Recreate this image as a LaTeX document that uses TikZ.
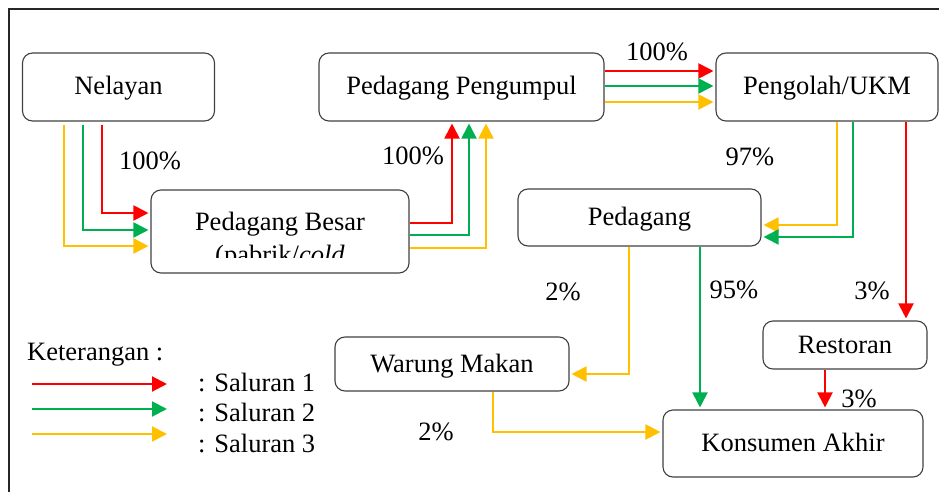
\documentclass[tikz,border=0pt]{standalone}
\usepackage{fontspec}
\setmainfont{Liberation Serif}
\usetikzlibrary{arrows.meta}
\definecolor{sred}{HTML}{FF0000}
\definecolor{sgreen}{HTML}{00B050}
\definecolor{syellow}{HTML}{FFC000}
\newcommand{\fs}{\fontsize{26.5}{30}\selectfont}
\tikzset{
  box/.style={draw=black!75, line width=1.1pt, rounded corners=10pt, inner sep=0pt, font=\fs, align=center, text height=17pt, text depth=1pt},
  flow/.style={line width=2pt, -{Triangle[length=15pt,width=15pt]}, shorten >=2pt},
  gap/.style={shorten <=3pt},
  r1/.style={flow, draw=sred},
  r2/.style={flow, draw=sgreen},
  r3/.style={flow, draw=syellow},
  lbl/.style={font=\fs, inner sep=0pt}
}
\begin{document}
\begin{tikzpicture}[x=1pt,y=-1pt]
\useasboundingbox (0,0) rectangle (939,492);
% frame
\draw[line width=2pt, black!85] (8.5,492) -- (8.5,9.5) -- (939,9.5);

% nodes
\node[box, minimum width=192pt, minimum height=68pt] (nel) at (118.5,87) {Nelayan};
\node[box, minimum width=258pt, minimum height=83pt] (pb) at (280,231.5) {};
\begin{scope}
  \clip (151,190) rectangle (409,257.5);
  \node[lbl, font=\fontsize{26.5}{33}\selectfont, align=center, anchor=base] (pbt) at (280,263) {Pedagang Besar\\(pabrik/\textit{cold}};
\end{scope}
\node[box, minimum width=285pt, minimum height=68pt] (pp) at (461.5,87) {Pedagang Pengumpul};
\node[box, minimum width=222pt, minimum height=68pt] (pu) at (827,87) {Pengolah/UKM};
\node[box, minimum width=243pt, minimum height=57pt] (ped) at (639.5,217.5) {Pedagang};
\node[box, minimum width=234pt, minimum height=54pt] (war) at (452,364) {Warung Makan};
\node[box, minimum width=164pt, minimum height=48pt] (res) at (845,345) {Restoran};
\node[box, minimum width=260pt, minimum height=67pt] (kon) at (793,443.5) {Konsumen Akhir};

% Nelayan -> Pedagang Besar
\draw[r1, gap] (nel.south -| 102,0) |- (pb.west |- 0,213);
\draw[r2, gap] (nel.south -| 83,0) |- (pb.west |- 0,230);
\draw[r3, gap] (nel.south -| 64,0) |- (pb.west |- 0,246);
% Pedagang Besar -> Pedagang Pengumpul
\draw[r1] (pb.east |- 0,223) -| (pp.south -| 452,0);
\draw[r2] (pb.east |- 0,235) -| (pp.south -| 469,0);
\draw[r3] (pb.east |- 0,248) -| (pp.south -| 486,0);
% Pedagang Pengumpul -> Pengolah
\draw[r1] (pp.east |- 0,71) -- (pu.west |- 0,71);
\draw[r2] (pp.east |- 0,86) -- (pu.west |- 0,86);
\draw[r3] (pp.east |- 0,102) -- (pu.west |- 0,102);
% Pengolah -> Pedagang / Restoran
\draw[r3] (pu.south -| 837,0) |- (ped.east |- 0,225);
\draw[r2] (pu.south -| 853,0) |- (ped.east |- 0,237);
\draw[r1] (pu.south -| 906,0) -- (res.north -| 906,0);
% Pedagang -> Warung / Konsumen
\draw[r3] (ped.south -| 629,0) |- (war.east |- 0,374);
\draw[r2] (ped.south -| 700,0) -- (kon.north -| 700,0);
% Warung -> Konsumen
\draw[r3] (war.south -| 493,0) |- (kon.west |- 0,432);
% Restoran -> Konsumen
\draw[r1] (res.south -| 825,0) -- (kon.north -| 825,0);

% percentages
\node[lbl] (p1) at (150,161) {100\%};
\node[lbl] (p2) at (413,156) {100\%};
\node[lbl] (p3) at (657,52) {100\%};
\node[lbl] (p4) at (750,157) {97\%};
\node[lbl] (p5) at (563,292) {2\%};
\node[lbl] (p6) at (734,290) {95\%};
\node[lbl] (p7) at (872,291) {3\%};
\node[lbl] (p8) at (859,399) {3\%};
\node[lbl] (p9) at (436,432) {2\%};

% legend
\node[lbl, anchor=base west] (ket) at (27,360) {Keterangan :};
\coordinate (l1a) at (32,384); \coordinate (l1b) at (169,384);
\coordinate (l2a) at (32,409); \coordinate (l2b) at (169,409);
\coordinate (l3a) at (32,434); \coordinate (l3b) at (169,434);
\draw[r1] (l1a) -- (l1b);
\draw[r2] (l2a) -- (l2b);
\draw[r3] (l3a) -- (l3b);
\node[lbl, anchor=base west] (s1) at (198,391) {: Saluran 1};
\node[lbl, anchor=base west] (s2) at (198,421) {: Saluran 2};
\node[lbl, anchor=base west] (s3) at (198,452) {: Saluran 3};
\end{tikzpicture}
\end{document}
